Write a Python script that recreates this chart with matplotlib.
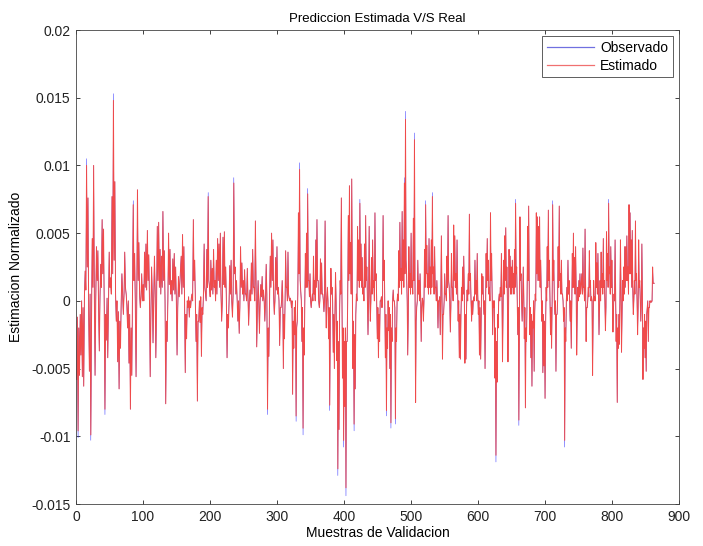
import numpy as np
import matplotlib

matplotlib.use("Agg")
import matplotlib.pyplot as plt

plt.rcParams["font.family"] = ["Liberation Sans", "DejaVu Sans"]

# Each stretch covers the sample range given in TRAMOS.
obs_1 = [-5.8, -1.2, -10.1, -2.0, -5.5, -1.0, -4.0, 0.0, -5.6, -0.5, -6.3, 0.4, 2.2, 0.8,
         10.5, 2.5, 7.6, -1.0, -5.2, 0.5, -10.3, -1.5, 4.6, 1.0, 10.0, 0.5, -5.5, 0.0,
         4.0, 1.5, 3.7, -0.6, -3.7, 0.3, 2.7, 1.0, 6.0, 2.0, 5.3, -0.5, -8.4, -1.0, -2.9,
         0.2, -4.2, 0.0, 3.6, 1.0, 1.7, 0.5, 7.7, 2.0, 15.3, 3.0, 8.8, 0.5, -1.5, 0.0,
         -4.5, -0.8, -6.5, -1.5, -3.5, 0.0, 2.0, 0.5, -1.0, 0.5, 3.6, 1.0, 0.5, -0.3,
         -2.0, 0.0, -4.6, -1.0, -8.0, -2.0, -5.5, 0.5, 7.4, 1.5, 3.5, -0.5, -5.6, 0.0,
         8.2, 1.5, 4.3, 0.5, -0.5, 0.3, 2.0, 0.0, 1.2, 0.0, 3.6, 1.0, 4.2, 0.8, 5.2, 1.5,
         3.4, 0.0, -5.6, -1.0, 2.5, 0.4, -3.1, 0.0, 3.3, 0.8, -4.2, -0.5, 5.5, 1.5, 5.8,
         1.0, 3.8, 0.5, 3.3, 1.0, 6.6, 1.5, 3.7, 0.0, -7.6, -1.5, -3.0, 0.0, 5.0, 1.2,
         3.8, 0.5, 1.5, 0.0, 3.1, 0.8, 3.5, 0.5, 2.5, 0.0, -4.0, -0.5, 1.8, 0.3]
obs_2 = [3.3, 0.5, 4.9, 1.0, 4.0, 0.0, -5.3, -1.0, -2.8, 0.0, -0.5, 0.3, -1.2, 0.0, -0.5,
         0.2, 0.5, 0.0, 6.0, 1.5, 3.0, 0.0, -3.0, -1.0, -7.4, -1.5, -1.5, 0.0, -1.6, 0.3,
         -4.1, -0.5, -1.0, 0.5, 4.2, 1.0, 0.5, 0.0, 3.8, 1.0, 8.0, 1.5, 1.0, 0.3, 3.0,
         0.8, 2.4, 0.5, 3.8, 1.0, 1.5, 0.0, 3.0, 0.5, 4.6, 1.5, 4.2, 1.0, 5.0, 0.5, -1.5,
         0.0, 4.7, 1.2, 5.1, 1.0, 2.5, 0.0, -4.2, -1.0, -2.0, 0.0, 2.6, 0.5, 3.0, 0.0,
         -1.2, 0.5, 9.1, 2.0, 2.5, 0.5, 1.5, 0.0, -1.5, 0.0, -2.4, -0.5, 4.0, 1.0, 2.8,
         0.5, 1.5, 0.0, 2.3, 0.5, 0.5, 0.0, 2.4, 0.3, -1.8, 0.0, 0.8, 0.0, 2.8, 0.5, 3.8,
         1.0, 1.0, 0.0, 5.9, 1.0, -3.4, -0.5, 1.5, 0.0, -2.4, 0.0, 1.2, 0.3, 1.8, 0.0,
         0.8, 0.0, -1.5, 0.0, 2.7, 0.5, -8.4, -2.0, -4.1, 0.0, 3.3, 1.0, 5.0, 1.5, 4.5,
         0.5, -1.0, 0.0, 3.2, 0.8, 4.0, 0.5, 1.0, 0.0, -3.3, -0.5]
obs_3 = [-0.5, 0.0, 1.5, 0.3, -5.0, -1.0, -2.8, 0.0, 3.7, 1.0, 1.0, 0.0, 3.6, 0.5, 0.2,
         0.0, 0.2, 0.0, -0.5, 0.0, -6.9, -1.5, -3.5, -0.5, -2.5, 0.0, -8.9, -2.0, -1.5,
         0.5, 6.5, 2.0, 10.2, 1.5, 0.8, 0.0, -3.0, -0.5, -9.9, -2.0, -4.0, 0.0, 3.5, 1.0,
         5.0, 1.0, 8.3, 1.5, 1.5, 0.3, 2.0, 0.0, -0.5, 0.0, 0.5, 0.0, 3.3, 0.5, 1.5, 0.0,
         4.5, 1.0, 6.0, 1.5, 1.5, 0.0, -0.5, 0.0, 3.1, 0.5, 2.8, 0.5, 0.5, 0.0, -0.8, 0.0,
         5.9, 1.0, -2.0, 0.0, 1.0, 0.0, -2.8, -0.5, -8.1, -1.5, 2.4, 0.5, 1.0, 0.0, -3.8,
         -1.0, -5.0, -1.0, 2.1, 0.0, -4.4, -1.5, -12.9, -3.0, -9.5, -1.0, 1.5, 0.5, 7.6,
         1.0, -5.7, -2.0, -10.8, -3.0, -7.8, -2.0, -14.4, -3.0, -3.0, 0.0, 6.3, 1.5, 8.5,
         2.0, 4.3, 0.5, 9.0, 1.0, -5.0, -1.5, -9.6, -2.5, -6.5, -1.0, 0.5, 0.0, 5.5, 1.5,
         4.5, 1.0, 7.5, 1.5, 4.2, 1.0, 3.2, 0.5, 1.0, 0.0, 4.2, 1.0, 6.3, 1.5, 2.5, 0.0,
         -2.5, 0.0, 5.5, 1.0, -1.5, 0.0, 3.2, 0.5, 4.5, 1.0, 1.5, 0.0, 6.5, 1.5, 2.0, 0.0,
         -2.8, -0.5, -4.2, -1.0, -3.0, 0.0]
obs_4 = [0.0, 0.3, -0.5, 0.0, 6.3, 1.5, 3.0, 0.0, -4.2, -1.0, -8.5, -2.0, -3.5, 0.0, -2.2,
         -0.5, -5.0, -1.0, -9.4, -2.0, -3.0, 0.0, 0.8, 0.0, 0.0, -0.5, -9.1, -2.0, -3.0,
         0.0, 0.5, 0.0, 3.7, 1.0, 5.8, 1.5, 2.4, 0.5, 6.6, 1.5, 4.5, 1.0, 9.1, 2.0, 14.0,
         3.0, 2.0, 0.0, -4.0, -1.0, 4.0, 1.0, 2.0, 0.5, 5.0, 1.0, 1.5, 0.5, 6.1, 1.5, 12.4,
         1.0, -7.5, -1.5, -0.5, 0.0, 3.0, 0.5, 1.5, 0.0, 2.0, 0.3, -3.0, -0.5, 0.2, 0.0,
         -1.5, 0.0, 3.8, 1.0, 7.4, 2.0, 4.1, 1.0, 2.0, 0.5, 4.6, 1.0, 2.5, 0.5, 4.5, 1.0,
         8.0, 2.0, 2.5, 0.5, 4.0, 1.0, 1.0, 0.0, 1.5, 0.0, -2.0, 0.0, 0.0, 0.3, -2.5, 0.0,
         4.8, 1.0, -4.3, -1.0, -1.0, 0.0, 2.0, 0.5, 0.5, 0.0, 3.3, 1.0, 6.3, 1.5, 1.0, 0.0,
         -2.3, -0.5, 3.5, 1.0, 1.0, 0.0, 5.6, 1.5, 4.8, 1.0, 2.0, 0.5, 4.5, 1.0, -1.5, 0.0,
         -4.2, -1.0, -4.3, -1.0, 1.0, 0.0, 2.5, 0.5, 3.3, 0.5, -4.6, -1.0, -4.3, -0.5, 0.8,
         0.0, 2.0, 0.5, 6.4, 1.5, 2.0, 0.0, -1.5, 0.0, -1.0, 0.0, 0.3, 0.0, 3.0, 0.5, 1.5,
         0.0, 3.5, 0.5, -1.0, 0.0, -4.0, -0.5]
obs_5 = [-4.3, -1.0, 2.0, 0.5, 1.8, 0.0, -1.0, 0.0, -5.0, -1.0, 3.5, 1.0, 4.6, 1.5, 3.0,
         0.5, 1.0, 0.0, 6.5, 1.5, 3.5, 0.5, -2.5, 0.0, -0.5, 0.0, -5.7, -2.0, -11.9, -3.0,
         -6.0, -1.0, -2.0, 0.0, 0.5, 0.0, 1.0, 0.3, 3.5, 0.5, -4.5, -1.0, 3.0, 0.5, 4.8,
         1.5, 5.4, 1.0, 2.5, 0.0, -4.5, -1.0, 3.8, 1.0, 3.3, 0.5, 2.5, 0.5, 3.0, 1.0, 2.0,
         0.5, 3.8, 1.0, 7.5, 2.0, 2.5, 0.0, -2.5, -0.5, -9.2, -2.0, 6.2, 1.5, 2.0, 0.0,
         -1.5, 0.0, 2.5, 0.5, -2.8, -0.5, -7.9, -2.0, -3.0, 0.0, 5.5, 1.5, 7.0, 1.0, -2.5,
         -0.5, -4.2, -1.0, -6.3, -1.5, -2.0, 0.0, -5.2, -1.0, 0.5, 0.0, 6.5, 2.0, 6.2, 1.5,
         5.5, 1.5, 6.2, 1.0, 3.0, 0.5, -1.5, 0.0, -5.3, -1.0, -4.8, -1.5, -7.2, -2.0, 1.0,
         0.0, 4.0, 1.0, 6.7, 1.5, 3.0, 0.0, -2.5, -0.5, -3.5, 0.0, 7.4, 1.5, 3.0, 0.0,
         -1.0, 0.0, -5.2, -1.0, -1.0, 0.0, 4.0, 1.0, 7.0, 1.5, 2.0, 0.5, 3.0, 0.5, 0.5,
         0.0, -1.5, -0.5, -10.8, -2.0, -3.0, 0.0, 1.0, 0.0, 3.0, 0.5, 1.5, 0.0, -1.5, 0.0,
         -3.5, -0.5, 3.5, 1.0, 5.0, 1.0, 3.2, 0.5, 4.0, 1.0, -4.0, -1.0, 1.0, 0.0, 1.5,
         0.3, 2.0, 0.5]
obs_6 = [2.0, 0.5, 3.9, 1.0, 1.0, 0.0, 5.3, 1.0, -3.0, -0.5, -0.5, 0.0, 1.0, 0.3, 3.7,
         1.0, 1.5, 0.0, 0.3, 0.0, -5.5, -1.5, 1.5, 0.0, 0.3, 0.0, 4.3, 1.0, 2.8, 0.5, 3.5,
         0.5, -2.5, -0.5, 1.5, 0.0, 3.6, 1.0, 2.0, 0.5, 4.6, 1.0, 1.5, 0.0, -2.2, -0.5,
         5.1, 1.5, 3.5, 1.0, 7.5, 2.0, 2.5, 0.5, 4.0, 1.0, 3.0, 0.5, -2.3, -0.5, 0.5, 0.0,
         4.5, 1.0, -3.0, -1.0, -7.5, -2.0, -3.5, -1.0, -3.2, 0.0, 4.5, 1.0, -3.8, -1.0,
         1.5, 0.0, 2.5, 0.5, 4.0, 1.0, 4.0, 1.5, 4.8, 1.5, 2.5, 0.5, 7.1, 2.0, 6.5, 2.0,
         4.5, 1.0, 5.2, 1.0, -1.0, 0.0, 1.5, 0.5, 5.9, 1.5, 2.0, 0.0, -2.5, -0.5, 4.5,
         1.0, 1.5, 0.0, -1.5, 0.0, 4.2, 0.5, -5.8, -2.0, -3.5, -1.0, -4.2, -1.5, -5.2,
         -1.0, -0.5, 0.0, -3.0, -0.5, -0.5, 0.0, -0.1, 0.0, -0.1, 0.0, 2.5, 1.3, 1.3, 1.3]

# first / last validation sample covered by each stretch
TRAMOS = [(1, 154), (157, 305), (306, 454), (455, 603), (604, 753), (755, 863)]

# peaks where the estimate falls a little short of the observation
AJUSTE_ESTIMADO = {15.3: 14.8, 10.5: 10.0, -10.1: -9.6, -10.3: -9.9, 10.2: 9.7,
                   -9.9: -9.4, -12.9: -12.4, -14.4: -13.8, -10.8: -10.3, 14.0: 13.4,
                   12.4: 11.9, -11.9: -11.4, 9.1: 8.7, -9.6: -9.1, -8.4: -8.0,
                   8.3: 7.9, -9.2: -8.8, 8.0: 7.7, -9.4: -9.0, -9.1: -8.7,
                   -8.9: -8.5, -8.1: -7.7, -8.5: -8.1, 7.5: 7.2, 7.4: 7.1}

X_TICKS = [0, 100, 200, 300, 400, 500, 600, 700, 800, 900]
Y_TICKS = [-0.015, -0.01, -0.005, 0, 0.005, 0.01, 0.015, 0.02]
Y_TICK_LABELS = ["-0.015", "-0.01", "-0.005", "0", "0.005", "0.01", "0.015", "0.02"]

tramos_obs = [obs_1, obs_2, obs_3, obs_4, obs_5, obs_6]
muestra = np.concatenate([np.linspace(a, b, len(v)) for (a, b), v in zip(TRAMOS, tramos_obs)])
observado_k = [v for tramo in tramos_obs for v in tramo]
estimado_k = [AJUSTE_ESTIMADO.get(v, v) for v in observado_k]
observado = np.array(observado_k) * 1e-3
estimado = np.array(estimado_k) * 1e-3

fig = plt.figure(figsize=(7.03, 5.46), dpi=100)
ax = fig.add_axes([76 / 703, 1 - 504 / 546, 603 / 703, 474 / 546])

ax.plot(muestra, observado, color="#3030ff", lw=0.35, label="Observado")
ax.plot(muestra, estimado, color="#f04a4a", lw=0.7, label="Estimado")

ax.set_xlim(0, 900)
ax.set_ylim(-0.015, 0.02)
ax.set_xticks(X_TICKS)
ax.set_yticks(Y_TICKS)
ax.set_yticklabels(Y_TICK_LABELS)
ax.tick_params(direction="in", length=3, width=0.6, top=True, right=True,
               labelsize=10, colors="#222222", pad=4)
for s in ax.spines.values():
    s.set_linewidth(0.6)
    s.set_color("#444444")

ax.set_title("Prediccion Estimada V/S Real", fontsize=9.5, pad=6)
ax.set_xlabel("Muestras de Validacion", fontsize=10, labelpad=2)
ax.set_ylabel("Estimacion Normalizado", fontsize=10, labelpad=6)

leg = ax.legend(loc="upper right", fontsize=10, handlelength=3.4, handletextpad=0.4,
                labelspacing=0.25, borderpad=0.35, borderaxespad=0.45,
                fancybox=False, framealpha=1)
leg.get_frame().set_edgecolor("#444444")
leg.get_frame().set_linewidth(0.6)
leg_colors = ["#7070e0", "#f07070"]
for h, c in zip(leg.get_lines(), leg_colors):
    h.set_linewidth(0.9)
    h.set_color(c)

fig.savefig("out.png", dpi=100)
